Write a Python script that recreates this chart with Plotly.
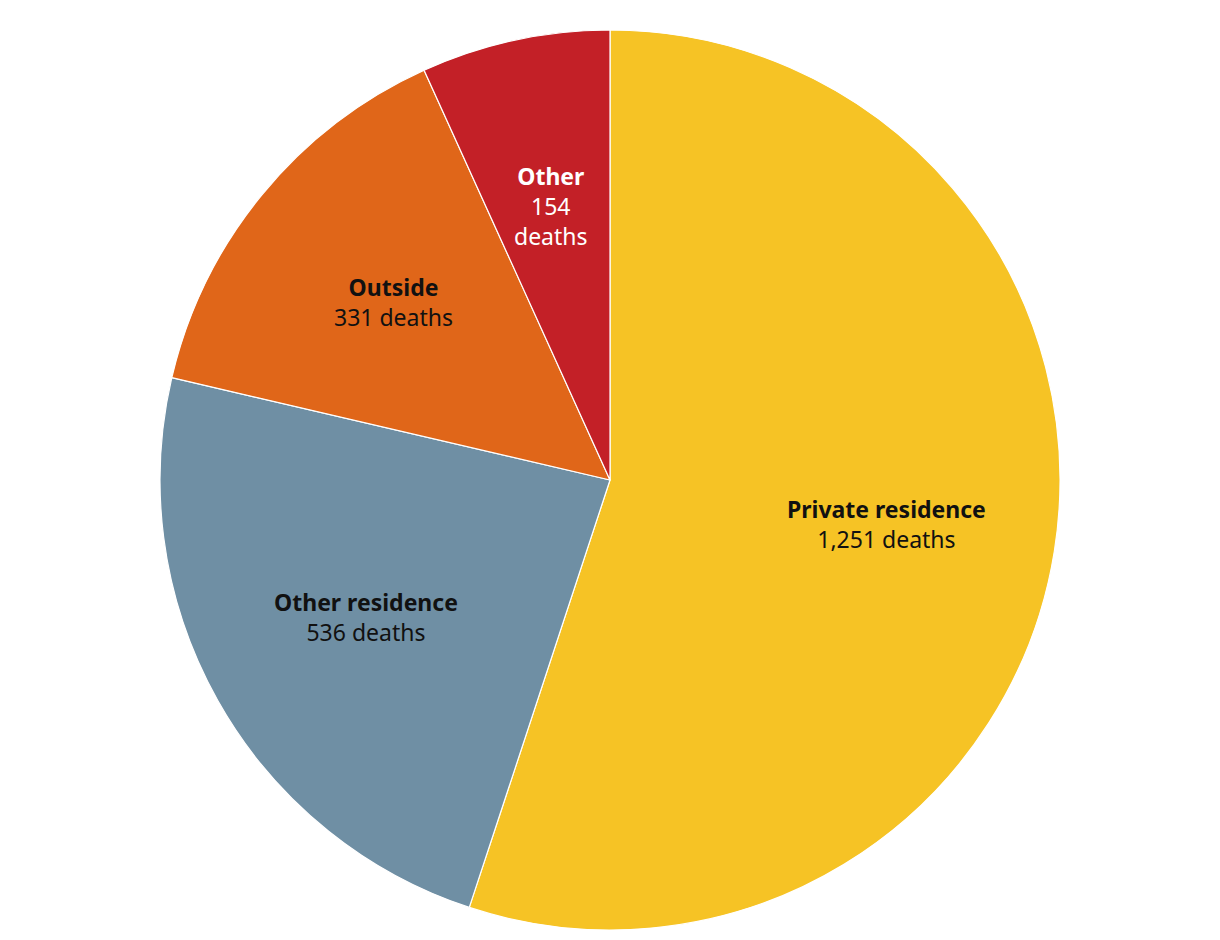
import math
import plotly.graph_objects as go

categories = ["Private residence", "Other residence", "Outside", "Other"]
deaths = [1251, 536, 331, 154]
colors = ["#F6C325", "#6F8FA4", "#E06619", "#C32027"]
label_colors = ["#111111", "#111111", "#111111", "#FFFFFF"]

W, H = 1220, 940
cx, cy, R = 610, 480, 450
label_r = 0.622 * R

fig = go.Figure(go.Pie(
    labels=categories,
    values=deaths,
    sort=False,
    direction="clockwise",
    rotation=0,
    marker=dict(colors=colors, line=dict(color="white", width=1.2)),
    textinfo="none",
    hoverinfo="label+value",
    showlegend=False,
    domain=dict(x=[0, 1], y=[1 - (cy + R) / H, 1 - (cy - R) / H]),
))

total = sum(deaths)
cum = 0
annotations = []
for cat, v, lc in zip(categories, deaths, label_colors):
    mid = (cum + v / 2) / total * 2 * math.pi
    cum += v
    px = cx + label_r * math.sin(mid)
    py = cy - label_r * math.cos(mid)
    if cat == "Other":
        txt = f"<b>{cat}</b><br>{v:,}<br>deaths"
    else:
        txt = f"<b>{cat}</b><br>{v:,} deaths"
    annotations.append(dict(
        x=px / W, y=1 - py / H, xref="paper", yref="paper",
        text=txt, showarrow=False, align="center",
        xanchor="center", yanchor="middle",
        font=dict(family="Noto Sans", size=23, color=lc),
    ))

fig.update_layout(
    width=W, height=H,
    margin=dict(l=0, r=0, t=0, b=0),
    paper_bgcolor="white",
    plot_bgcolor="white",
    annotations=annotations,
)

fig.write_html("out.html")
